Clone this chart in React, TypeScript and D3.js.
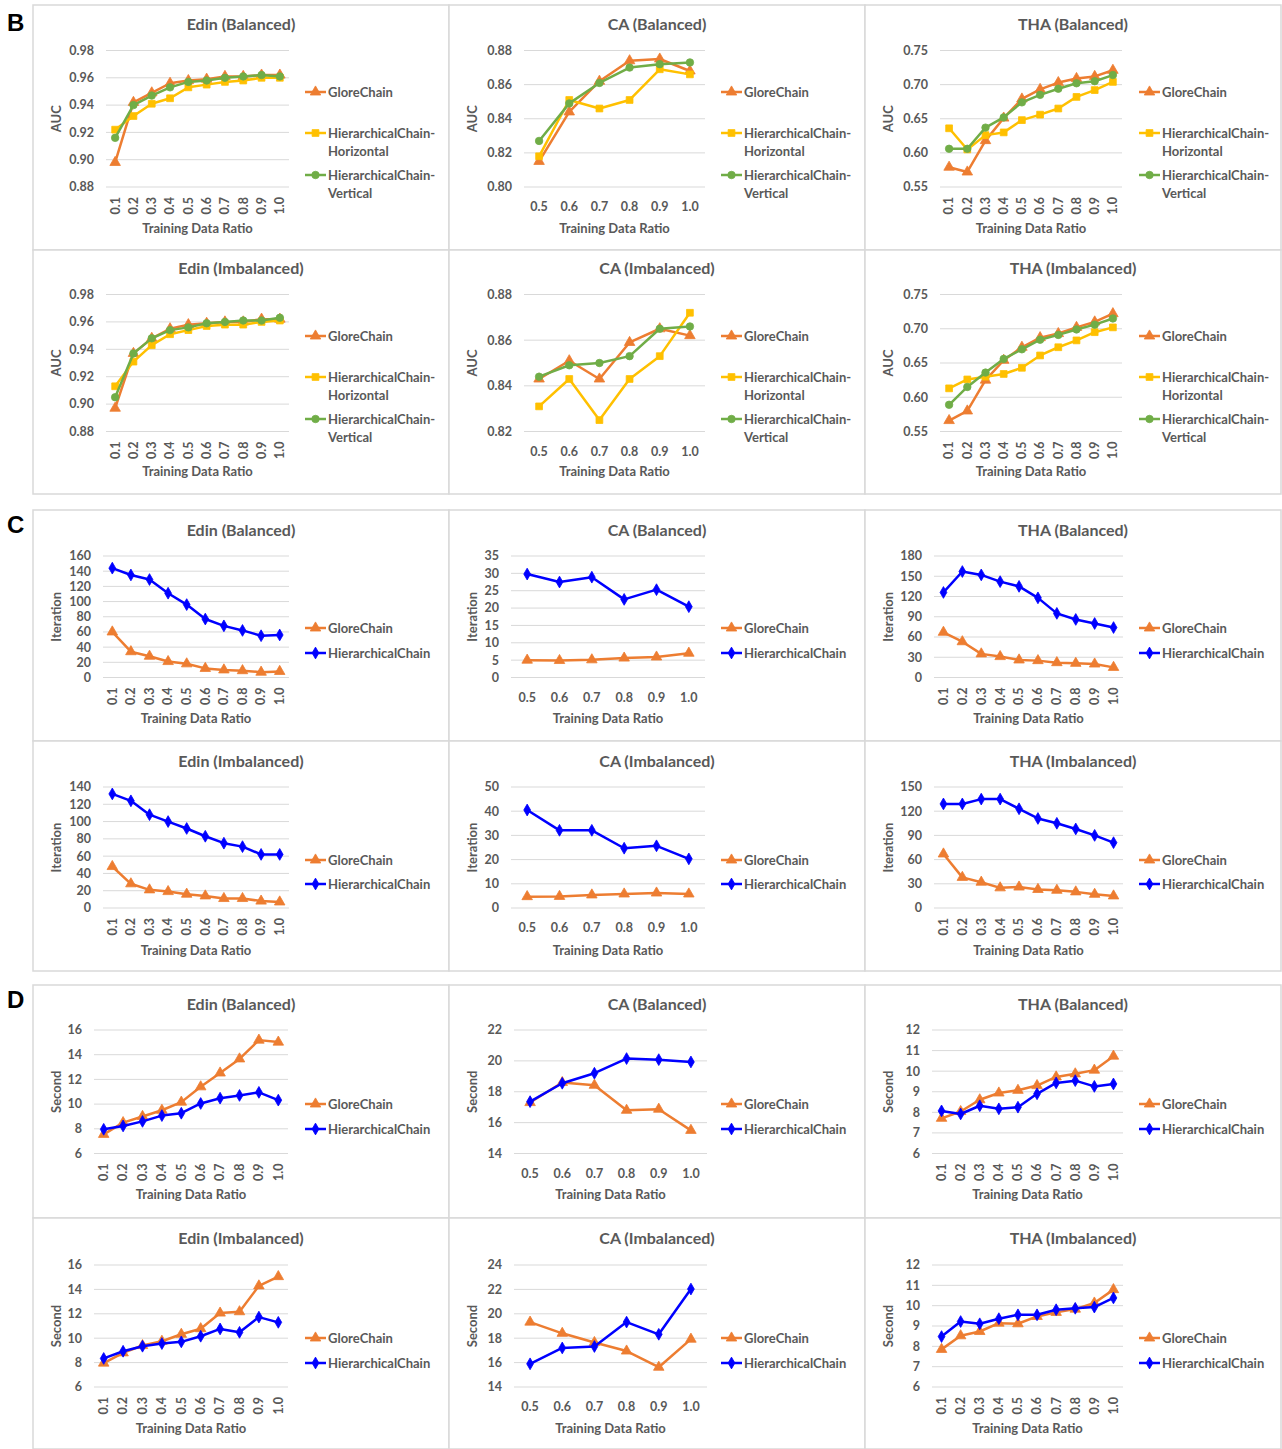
import React from 'react';
import * as d3 from 'd3';

// ---------- categories ----------
const ratiosFull = ['0.1', '0.2', '0.3', '0.4', '0.5', '0.6', '0.7', '0.8', '0.9', '1.0'];
const ratiosHalf = ['0.5', '0.6', '0.7', '0.8', '0.9', '1.0'];

const nameGlore = 'GloreChain';
const nameHoriz = 'HierarchicalChain-Horizontal';
const nameVert = 'HierarchicalChain-Vertical';
const nameHier = 'HierarchicalChain';

// ---------- B: AUC ----------
const aucEdinBalGlore = [0.898, 0.942, 0.949, 0.956, 0.958, 0.959, 0.961, 0.961, 0.962, 0.962];
const aucEdinBalHoriz = [0.922, 0.932, 0.941, 0.945, 0.953, 0.955, 0.957, 0.958, 0.960, 0.960];
const aucEdinBalVert = [0.916, 0.940, 0.947, 0.953, 0.957, 0.958, 0.960, 0.961, 0.962, 0.961];

const aucEdinImbGlore = [0.897, 0.937, 0.948, 0.955, 0.958, 0.959, 0.960, 0.960, 0.962, 0.962];
const aucEdinImbHoriz = [0.913, 0.931, 0.943, 0.951, 0.954, 0.957, 0.958, 0.958, 0.960, 0.961];
const aucEdinImbVert = [0.905, 0.937, 0.948, 0.954, 0.956, 0.959, 0.960, 0.961, 0.961, 0.963];

const aucCABalGlore = [0.815, 0.844, 0.862, 0.874, 0.875, 0.868];
const aucCABalHoriz = [0.818, 0.851, 0.846, 0.851, 0.869, 0.866];
const aucCABalVert = [0.827, 0.849, 0.861, 0.870, 0.872, 0.873];

const aucCAImbGlore = [0.843, 0.851, 0.843, 0.859, 0.865, 0.862];
const aucCAImbHoriz = [0.831, 0.843, 0.825, 0.843, 0.853, 0.872];
const aucCAImbVert = [0.844, 0.849, 0.850, 0.853, 0.865, 0.866];

const aucTHABalGlore = [0.579, 0.572, 0.618, 0.651, 0.679, 0.693, 0.703, 0.709, 0.712, 0.721];
const aucTHABalHoriz = [0.636, 0.605, 0.626, 0.630, 0.648, 0.656, 0.665, 0.682, 0.692, 0.704];
const aucTHABalVert = [0.606, 0.606, 0.637, 0.652, 0.674, 0.685, 0.694, 0.702, 0.705, 0.714];

const aucTHAImbGlore = [0.566, 0.580, 0.625, 0.654, 0.673, 0.687, 0.693, 0.702, 0.710, 0.722];
const aucTHAImbHoriz = [0.613, 0.626, 0.630, 0.634, 0.643, 0.661, 0.673, 0.683, 0.695, 0.702];
const aucTHAImbVert = [0.589, 0.615, 0.636, 0.656, 0.670, 0.684, 0.691, 0.699, 0.706, 0.715];

// ---------- C: Iteration ----------
const iterEdinBalGlore = [60, 34, 28, 21, 18, 12, 10, 9, 7, 8];
const iterEdinBalHier = [144, 135, 129, 111, 96, 77, 68, 62, 55, 56];
const iterEdinImbGlore = [48, 28, 21, 19, 16, 14, 11, 11, 8, 7];
const iterEdinImbHier = [132, 124, 108, 100, 92, 83, 75, 71, 62, 62];
const iterCABalGlore = [5.0, 4.9, 5.1, 5.6, 5.9, 7.0];
const iterCABalHier = [29.8, 27.5, 28.9, 22.5, 25.3, 20.4];
const iterCAImbGlore = [4.7, 4.8, 5.4, 5.8, 6.2, 5.8];
const iterCAImbHier = [40.5, 32.1, 32.1, 24.7, 25.7, 20.3];
const iterTHABalGlore = [67, 53, 35, 31, 26, 25, 22, 21, 20, 15];
const iterTHABalHier = [126, 157, 152, 142, 135, 118, 95, 86, 80, 74];
const iterTHAImbGlore = [67, 38, 32, 25, 26, 23, 22, 20, 17, 15];
const iterTHAImbHier = [129, 129, 135, 135, 123, 111, 105, 98, 90, 81];

// ---------- D: Second ----------
const secEdinBalGlore = [7.55, 8.5, 9.0, 9.5, 10.16, 11.4, 12.52, 13.66, 15.18, 15.02];
const secEdinBalHier = [7.96, 8.23, 8.6, 9.07, 9.26, 10.05, 10.48, 10.7, 10.95, 10.32];
const secEdinImbGlore = [7.96, 8.8, 9.4, 9.75, 10.32, 10.78, 12.06, 12.17, 14.29, 15.05];
const secEdinImbHier = [8.34, 8.93, 9.34, 9.56, 9.7, 10.16, 10.76, 10.48, 11.73, 11.3];
const secCABalGlore = [17.3, 18.6, 18.42, 16.8, 16.87, 15.5];
const secCABalHier = [17.36, 18.55, 19.2, 20.15, 20.08, 19.93];
const secCAImbGlore = [19.32, 18.4, 17.65, 16.95, 15.62, 17.92];
const secCAImbHier = [15.9, 17.2, 17.32, 19.32, 18.32, 22.03];
const secTHABalGlore = [7.71, 8.04, 8.61, 8.94, 9.07, 9.3, 9.72, 9.87, 10.05, 10.73];
const secTHABalHier = [8.07, 7.92, 8.32, 8.17, 8.25, 8.9, 9.43, 9.54, 9.26, 9.38];
const secTHAImbGlore = [7.85, 8.52, 8.73, 9.14, 9.11, 9.47, 9.67, 9.83, 10.13, 10.79];
const secTHAImbHier = [8.48, 9.22, 9.11, 9.36, 9.55, 9.55, 9.8, 9.87, 9.93, 10.38];

// ---------- tick labels ----------
const aucTicksEdin = [0.88, 0.9, 0.92, 0.94, 0.96, 0.98];
const aucTicksCABal = [0.8, 0.82, 0.84, 0.86, 0.88];
const aucTicksCAImb = [0.82, 0.84, 0.86, 0.88];
const aucTicksTHA = [0.55, 0.6, 0.65, 0.7, 0.75];
const iterTicksEdinBal = [0, 20, 40, 60, 80, 100, 120, 140, 160];
const iterTicksEdinImb = [0, 20, 40, 60, 80, 100, 120, 140];
const iterTicksCABal = [0, 5, 10, 15, 20, 25, 30, 35];
const iterTicksCAImb = [0, 10, 20, 30, 40, 50];
const iterTicksTHABal = [0, 30, 60, 90, 120, 150, 180];
const iterTicksTHAImb = [0, 30, 60, 90, 120, 150];
const secTicksEdin = [6, 8, 10, 12, 14, 16];
const secTicksCABal = [14, 16, 18, 20, 22];
const secTicksCAImb = [14, 16, 18, 20, 22, 24];
const secTicksTHA = [6, 7, 8, 9, 10, 11, 12];

// ---------- styles ----------
const FONT = "Lato, 'Open Sans', sans-serif";
const TXT = '#595959';
const GRID = '#D9D9D9';
const styleOf: Record<string, { color: string; sym: any; size: number }> = {
  [nameGlore]: { color: '#ED7D31', sym: d3.symbolTriangle, size: 48 },
  [nameHoriz]: { color: '#FFC000', sym: d3.symbolSquare, size: 46 },
  [nameVert]: { color: '#70AD47', sym: d3.symbolCircle, size: 44 },
  [nameHier]: { color: '#0000FF', sym: d3.symbolDiamond, size: 40 },
};

type Series = { name: string; values: number[] };
type PanelSpec = {
  section: number; row: number; col: number;
  title: string; yLabel: string; cats: string[]; ticks: number[];
  fmt: (v: number) => string; series: Series[];
};

const f2 = d3.format('.2f');
const fd = d3.format('d');

const panels: PanelSpec[] = [
  // B
  { section: 0, row: 0, col: 0, title: 'Edin (Balanced)', yLabel: 'AUC', cats: ratiosFull, ticks: aucTicksEdin, fmt: f2,
    series: [{ name: nameGlore, values: aucEdinBalGlore }, { name: nameHoriz, values: aucEdinBalHoriz }, { name: nameVert, values: aucEdinBalVert }] },
  { section: 0, row: 0, col: 1, title: 'CA (Balanced)', yLabel: 'AUC', cats: ratiosHalf, ticks: aucTicksCABal, fmt: f2,
    series: [{ name: nameGlore, values: aucCABalGlore }, { name: nameHoriz, values: aucCABalHoriz }, { name: nameVert, values: aucCABalVert }] },
  { section: 0, row: 0, col: 2, title: 'THA (Balanced)', yLabel: 'AUC', cats: ratiosFull, ticks: aucTicksTHA, fmt: f2,
    series: [{ name: nameGlore, values: aucTHABalGlore }, { name: nameHoriz, values: aucTHABalHoriz }, { name: nameVert, values: aucTHABalVert }] },
  { section: 0, row: 1, col: 0, title: 'Edin (Imbalanced)', yLabel: 'AUC', cats: ratiosFull, ticks: aucTicksEdin, fmt: f2,
    series: [{ name: nameGlore, values: aucEdinImbGlore }, { name: nameHoriz, values: aucEdinImbHoriz }, { name: nameVert, values: aucEdinImbVert }] },
  { section: 0, row: 1, col: 1, title: 'CA (Imbalanced)', yLabel: 'AUC', cats: ratiosHalf, ticks: aucTicksCAImb, fmt: f2,
    series: [{ name: nameGlore, values: aucCAImbGlore }, { name: nameHoriz, values: aucCAImbHoriz }, { name: nameVert, values: aucCAImbVert }] },
  { section: 0, row: 1, col: 2, title: 'THA (Imbalanced)', yLabel: 'AUC', cats: ratiosFull, ticks: aucTicksTHA, fmt: f2,
    series: [{ name: nameGlore, values: aucTHAImbGlore }, { name: nameHoriz, values: aucTHAImbHoriz }, { name: nameVert, values: aucTHAImbVert }] },
  // C
  { section: 1, row: 0, col: 0, title: 'Edin (Balanced)', yLabel: 'Iteration', cats: ratiosFull, ticks: iterTicksEdinBal, fmt: fd,
    series: [{ name: nameGlore, values: iterEdinBalGlore }, { name: nameHier, values: iterEdinBalHier }] },
  { section: 1, row: 0, col: 1, title: 'CA (Balanced)', yLabel: 'Iteration', cats: ratiosHalf, ticks: iterTicksCABal, fmt: fd,
    series: [{ name: nameGlore, values: iterCABalGlore }, { name: nameHier, values: iterCABalHier }] },
  { section: 1, row: 0, col: 2, title: 'THA (Balanced)', yLabel: 'Iteration', cats: ratiosFull, ticks: iterTicksTHABal, fmt: fd,
    series: [{ name: nameGlore, values: iterTHABalGlore }, { name: nameHier, values: iterTHABalHier }] },
  { section: 1, row: 1, col: 0, title: 'Edin (Imbalanced)', yLabel: 'Iteration', cats: ratiosFull, ticks: iterTicksEdinImb, fmt: fd,
    series: [{ name: nameGlore, values: iterEdinImbGlore }, { name: nameHier, values: iterEdinImbHier }] },
  { section: 1, row: 1, col: 1, title: 'CA (Imbalanced)', yLabel: 'Iteration', cats: ratiosHalf, ticks: iterTicksCAImb, fmt: fd,
    series: [{ name: nameGlore, values: iterCAImbGlore }, { name: nameHier, values: iterCAImbHier }] },
  { section: 1, row: 1, col: 2, title: 'THA (Imbalanced)', yLabel: 'Iteration', cats: ratiosFull, ticks: iterTicksTHAImb, fmt: fd,
    series: [{ name: nameGlore, values: iterTHAImbGlore }, { name: nameHier, values: iterTHAImbHier }] },
  // D
  { section: 2, row: 0, col: 0, title: 'Edin (Balanced)', yLabel: 'Second', cats: ratiosFull, ticks: secTicksEdin, fmt: fd,
    series: [{ name: nameGlore, values: secEdinBalGlore }, { name: nameHier, values: secEdinBalHier }] },
  { section: 2, row: 0, col: 1, title: 'CA (Balanced)', yLabel: 'Second', cats: ratiosHalf, ticks: secTicksCABal, fmt: fd,
    series: [{ name: nameGlore, values: secCABalGlore }, { name: nameHier, values: secCABalHier }] },
  { section: 2, row: 0, col: 2, title: 'THA (Balanced)', yLabel: 'Second', cats: ratiosFull, ticks: secTicksTHA, fmt: fd,
    series: [{ name: nameGlore, values: secTHABalGlore }, { name: nameHier, values: secTHABalHier }] },
  { section: 2, row: 1, col: 0, title: 'Edin (Imbalanced)', yLabel: 'Second', cats: ratiosFull, ticks: secTicksEdin, fmt: fd,
    series: [{ name: nameGlore, values: secEdinImbGlore }, { name: nameHier, values: secEdinImbHier }] },
  { section: 2, row: 1, col: 1, title: 'CA (Imbalanced)', yLabel: 'Second', cats: ratiosHalf, ticks: secTicksCAImb, fmt: fd,
    series: [{ name: nameGlore, values: secCAImbGlore }, { name: nameHier, values: secCAImbHier }] },
  { section: 2, row: 1, col: 2, title: 'THA (Imbalanced)', yLabel: 'Second', cats: ratiosFull, ticks: secTicksTHA, fmt: fd,
    series: [{ name: nameGlore, values: secTHAImbGlore }, { name: nameHier, values: secTHAImbHier }] },
];

// ---------- layout ----------
const colLefts = [33, 449, 865];
const colWidth = 416;
const sectionLabels = ['B', 'C', 'D'];
const sectionLabelY = [31, 533, 1008];
const rowLayout = [
  [
    { box: 5, h: 245, title: 24, top: 50.5, bottom: 187, xlab: 228, legend: [92, 133, 151, 175, 193] },
    { box: 250, h: 244, title: 268, top: 294.5, bottom: 431.5, xlab: 471, legend: [336, 377, 395, 419, 437] },
  ],
  [
    { box: 510, h: 231, title: 530, top: 556, bottom: 677.5, xlab: 718, legend: [628, 653] },
    { box: 741, h: 230, title: 761, top: 787, bottom: 908, xlab: 950, legend: [860, 884] },
  ],
  [
    { box: 985, h: 233, title: 1004, top: 1030, bottom: 1153.5, xlab: 1194, legend: [1104, 1129] },
    { box: 1218, h: 231, title: 1238, top: 1265, bottom: 1387, xlab: 1428, legend: [1338, 1363] },
  ],
];
const plotLR = [
  [[106, 289], [524, 705], [940, 1122]],
  [[103, 289], [511, 705], [934, 1123]],
  [[94, 288], [514, 707], [932, 1123]],
];
const legendX = [305, 721, 1139];

function Marker({ name, x, y }: { name: string; x: number; y: number }) {
  const st = styleOf[name];
  const d = d3.symbol().type(st.sym).size(st.size)() as string;
  return <path d={d} transform={`translate(${x},${y})`} fill={st.color} stroke={st.color} strokeWidth={0.8} />;
}

function Panel({ p }: { p: PanelSpec }) {
  const L = rowLayout[p.section][p.row];
  const [l, r] = plotLR[p.section][p.col];
  const bx = colLefts[p.col];
  const x = d3.scalePoint<string>().domain(p.cats).range([l, r]).padding(0.5);
  const y = d3.scaleLinear().domain([p.ticks[0], p.ticks[p.ticks.length - 1]]).range([L.bottom, L.top]);
  const line = d3.line<number>().x((_, i) => x(p.cats[i]) as number).y((d) => y(d));
  const rotated = p.cats.length > 6;
  const lx = legendX[p.col];

  const legendEntries: { name: string; lines: string[]; ys: number[] }[] =
    p.series.length === 3
      ? [
          { name: nameGlore, lines: ['GloreChain'], ys: [L.legend[0]] },
          { name: nameHoriz, lines: ['HierarchicalChain-', 'Horizontal'], ys: [L.legend[1], L.legend[2]] },
          { name: nameVert, lines: ['HierarchicalChain-', 'Vertical'], ys: [L.legend[3], L.legend[4]] },
        ]
      : [
          { name: nameGlore, lines: ['GloreChain'], ys: [L.legend[0]] },
          { name: nameHier, lines: ['HierarchicalChain'], ys: [L.legend[1]] },
        ];

  return (
    <g>
      <rect x={bx} y={L.box} width={colWidth} height={L.h} fill="#fff" stroke={GRID} strokeWidth={1.5} />
      <text x={bx + colWidth / 2} y={L.title} dy="0.35em" textAnchor="middle" fontFamily={FONT}
        fontSize={16} fontWeight={700} fill={TXT}>{p.title}</text>
      {p.ticks.map((t) => (
        <g key={t}>
          <line x1={l} x2={r} y1={y(t)} y2={y(t)} stroke={GRID} strokeWidth={1} />
          <text x={l - 12} y={y(t)} dy="0.35em" textAnchor="end" fontFamily={FONT} fontSize={12.5}
            fontWeight={700} fill={TXT}>{p.fmt(t)}</text>
        </g>
      ))}
      {p.cats.map((c) =>
        rotated ? (
          <text key={c} transform={`translate(${x(c)},${L.bottom + 10}) rotate(-90)`} dy="0.35em"
            textAnchor="end" fontFamily={FONT} fontSize={12.5} fontWeight={700} fill={TXT}>{c}</text>
        ) : (
          <text key={c} x={x(c)} y={L.bottom + 20} dy="0.35em" textAnchor="middle" fontFamily={FONT}
            fontSize={12.5} fontWeight={700} fill={TXT}>{c}</text>
        )
      )}
      <text x={(l + r) / 2} y={L.xlab} dy="0.35em" textAnchor="middle" fontFamily={FONT} fontSize={13}
        fontWeight={700} fill={TXT}>Training Data Ratio</text>
      <text transform={`translate(${bx + 23},${(L.top + L.bottom) / 2}) rotate(-90)`} dy="0.35em"
        textAnchor="middle" fontFamily={FONT} fontSize={13} fontWeight={700} fill={TXT}>{p.yLabel}</text>
      {p.series.map((s) => (
        <g key={s.name}>
          <path d={line(s.values) as string} fill="none" stroke={styleOf[s.name].color} strokeWidth={2.5}
            strokeLinejoin="round" strokeLinecap="round" />
          {s.values.map((v, i) => (
            <Marker key={i} name={s.name} x={x(p.cats[i]) as number} y={y(v)} />
          ))}
        </g>
      ))}
      {legendEntries.map((e) => (
        <g key={e.name}>
          <line x1={lx} x2={lx + 21} y1={e.ys[0]} y2={e.ys[0]} stroke={styleOf[e.name].color} strokeWidth={2.5} />
          <Marker name={e.name} x={lx + 10.5} y={e.ys[0]} />
          {e.lines.map((t, i) => (
            <text key={i} x={lx + 23} y={e.ys[i]} dy="0.35em" fontFamily={FONT} fontSize={13}
              fontWeight={700} fill={TXT}>{t}</text>
          ))}
        </g>
      ))}
    </g>
  );
}

export default function App() {
  return (
    <div style={{ position: 'absolute', left: 0, top: 0 }}>
      <svg width={1282} height={1449} style={{ display: 'block', background: '#fff' }}>
        <rect x={0} y={0} width={1282} height={1449} fill="#fff" />
        {panels.map((p, i) => (
          <Panel key={i} p={p} />
        ))}
        {sectionLabels.map((s, i) => (
          <text key={s} x={7} y={sectionLabelY[i]} fontFamily="'Liberation Sans', Arial, sans-serif"
            fontSize={24} fontWeight={700} fill="#000">{s}</text>
        ))}
      </svg>
    </div>
  );
}
